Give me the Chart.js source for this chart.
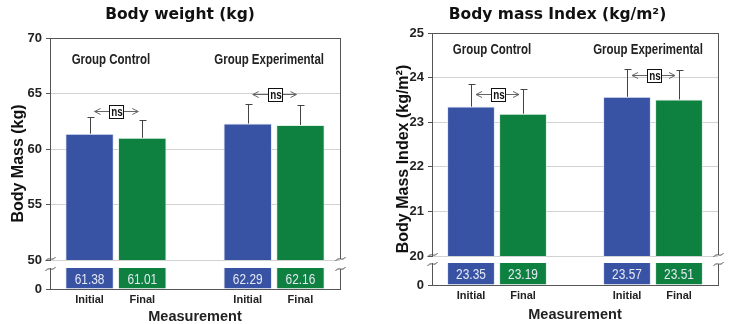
<!DOCTYPE html>
<html>
<head>
<meta charset="utf-8">
<script src="https://cdn.jsdelivr.net/npm/chart.js@4.4.1/dist/chart.umd.min.js"></script>
<style>
  html, body { margin: 0; padding: 0; background: #fff; }
  #wrap { position: relative; width: 730px; height: 324px; }
  .panel { position: absolute; top: 0; width: 365px; height: 324px; }
  .panel canvas { position: absolute; left: 0; top: 0; }
</style>
</head>
<body>
<div id="wrap">
  <div class="panel" style="left:0">
    <canvas id="wTop" width="365" height="324"></canvas>
    <canvas id="wBot" width="365" height="324"></canvas>
  </div>
  <div class="panel" style="left:365px">
    <canvas id="bTop" width="365" height="324"></canvas>
    <canvas id="bBot" width="365" height="324"></canvas>
  </div>
</div>
<script>
// data
const groups = ['Group Control', 'Group Experimental'];
const phases = ['Initial', 'Final'];

const weightInitial = [61.38, 62.29];
const weightFinal = [61.01, 62.16];
const weightInitialSD = [1.52, 1.77];
const weightFinalSD = [1.60, 1.84];
const weightTicks = [50, 55, 60, 65, 70];

const bmiInitial = [23.35, 23.57];
const bmiFinal = [23.19, 23.51];
const bmiInitialSD = [0.51, 0.63];
const bmiFinalSD = [0.55, 0.65];
const bmiTicks = [20, 21, 22, 23, 24, 25];

const blue = '#3953a4';
const green = '#0e8140';
const axisGray = '#555';
const sans = "'Liberation Sans', Arial, sans-serif";
const SQUEEZE = 0.82; // the figure uses a condensed face; squeeze our own labels to match

Chart.defaults.font.family = sans;
Chart.defaults.color = '#222';

// bar slots on the x axis: 1,2 for the first group, 4,5 for the second
const slot = (g, k) => g * 3 + 1 + k;
const barSlots = groups.flatMap((g, i) => phases.map((ph, k) => slot(i, k)));

function makeBars(initial, final, initialSD, finalSD) {
  const common = { grouped: false, barPercentage: 0.92, categoryPercentage: 1, borderWidth: 1 };
  return [
    { ...common, label: phases[0], data: initial.map((v, i) => ({ x: slot(i, 0), y: v })), errors: initialSD,
      backgroundColor: blue, borderColor: 'rgba(220,226,245,0.8)' },
    { ...common, label: phases[1], data: final.map((v, i) => ({ x: slot(i, 1), y: v })), errors: finalSD,
      backgroundColor: green, borderColor: 'rgba(215,238,222,0.8)' }
  ];
}

function narrowText(ctx, text, x, y) {
  ctx.save();
  ctx.translate(x, y);
  ctx.scale(SQUEEZE, 1);
  ctx.fillText(text, 0, 0);
  ctx.restore();
}

function tilde(ctx, x, y) {
  ctx.beginPath();
  ctx.moveTo(x - 5, y + 2);
  ctx.bezierCurveTo(x - 2, y - 3, x + 2, y + 3, x + 5, y - 2);
  ctx.stroke();
}

function drawNs(ctx, x1, x2, y) {
  const mid = Math.round((x1 + x2) / 2);
  ctx.save();
  ctx.strokeStyle = '#666';
  ctx.lineWidth = 1;
  ctx.beginPath();
  ctx.moveTo(x1, y); ctx.lineTo(x2, y);
  ctx.moveTo(x1 + 6, y - 3); ctx.lineTo(x1, y); ctx.lineTo(x1 + 6, y + 3);
  ctx.moveTo(x2 - 6, y - 3); ctx.lineTo(x2, y); ctx.lineTo(x2 - 6, y + 3);
  ctx.stroke();
  ctx.fillStyle = '#fff';
  ctx.fillRect(mid - 7, y - 6.5, 14, 13);
  ctx.strokeStyle = '#111';
  ctx.strokeRect(mid - 7 + 0.5, Math.round(y - 6.5) + 0.5, 14, 13);
  ctx.fillStyle = '#111';
  ctx.font = 'bold 12px ' + sans;
  ctx.textAlign = 'center';
  ctx.textBaseline = 'middle';
  narrowText(ctx, 'ns', mid + 1, Math.round(y) + 1);
  ctx.restore();
}

function makePanel(p) {
  const xScale = {
    type: 'linear', min: 0.25, max: 5.75, offset: false,
    afterBuildTicks: s => { s.ticks = barSlots.map(v => ({ value: v })); },
    ticks: { callback: v => phases[(v - 1) % 3], autoSkip: false, maxRotation: 0, padding: 4,
      font: { size: 11, weight: 'bold' } },
    grid: { display: false, drawTicks: false, offset: false },
    border: { color: axisGray }
  };
  const yTicks = { padding: 4, font: { size: 13, weight: 'bold' } };
  const lo = p.ticks[0], hi = p.ticks[p.ticks.length - 1];

  const upperDecor = {
    id: 'upperDecor',
    afterDatasetsDraw(chart) {
      const { ctx, scales: { y } } = chart;
      ctx.save();
      // error bars (upper whisker only)
      ctx.strokeStyle = '#444';
      ctx.lineWidth = 1;
      chart.data.datasets.forEach((ds, di) => {
        chart.getDatasetMeta(di).data.forEach((bar, i) => {
          const x = Math.round(bar.x) + 0.5;
          const yTop = Math.round(y.getPixelForValue(ds.data[i].y + ds.errors[i])) + 0.5;
          ctx.beginPath();
          ctx.moveTo(x, bar.y); ctx.lineTo(x, yTop);
          ctx.moveTo(x - 3, yTop); ctx.lineTo(x + 4, yTop);
          ctx.stroke();
        });
      });
      // group names and ns brackets
      const m0 = chart.getDatasetMeta(0).data, m1 = chart.getDatasetMeta(1).data;
      ctx.fillStyle = '#222';
      ctx.font = 'bold 14px ' + sans;
      ctx.textAlign = 'center';
      ctx.textBaseline = 'middle';
      groups.forEach((g, i) => {
        narrowText(ctx, g, (m0[i].x + m1[i].x) / 2 - 5, y.getPixelForValue(p.groupAt));
      });
      groups.forEach((g, i) => {
        drawNs(ctx, m0[i].x + 5, m1[i].x - 4, Math.round(y.getPixelForValue(p.nsAt[i])) + 0.5);
      });
      ctx.restore();
    },
    afterDraw(chart) {
      const { ctx, chartArea: a } = chart;
      ctx.save();
      ctx.strokeStyle = axisGray;
      ctx.lineWidth = 1;
      const r = Math.round(a.right) + 0.5;
      ctx.beginPath();
      ctx.moveTo(r, a.top); ctx.lineTo(r, a.bottom - 1);
      ctx.stroke();
      tilde(ctx, Math.round(a.left) + 0.5, a.bottom - 1);
      tilde(ctx, r, a.bottom - 1);
      // y axis title, centred over both parts of the broken axis
      ctx.translate(p.yTitleX, (p.top + p.lowBottom) / 2);
      ctx.rotate(-Math.PI / 2);
      ctx.fillStyle = '#111';
      ctx.font = 'bold 16px ' + sans;
      ctx.textAlign = 'center';
      ctx.textBaseline = 'middle';
      ctx.fillText(p.yTitle, 0, 0);
      ctx.restore();
    }
  };

  const lowerDecor = {
    id: 'lowerDecor',
    afterDatasetsDraw(chart) {
      const { ctx, chartArea: a } = chart;
      ctx.save();
      ctx.fillStyle = '#e4e9f4';
      ctx.font = '14.5px ' + sans;
      ctx.textAlign = 'center';
      ctx.textBaseline = 'middle';
      chart.data.datasets.forEach((ds, di) => {
        chart.getDatasetMeta(di).data.forEach((bar, i) => {
          narrowText(ctx, ds.data[i].y.toFixed(2), bar.x, (a.top + a.bottom) / 2 + 1);
        });
      });
      ctx.strokeStyle = axisGray;
      ctx.lineWidth = 1;
      const r = Math.round(a.right) + 0.5;
      ctx.beginPath();
      ctx.moveTo(r, a.top + 1); ctx.lineTo(r, a.bottom);
      ctx.stroke();
      tilde(ctx, Math.round(a.left) + 0.5, a.top + 1);
      tilde(ctx, r, a.top + 1);
      ctx.restore();
    }
  };

  // upper part of the broken axis
  new Chart(document.getElementById(p.id + 'Top'), {
    type: 'bar',
    data: { datasets: makeBars(p.initial, p.final, p.initialSD, p.finalSD) },
    options: {
      responsive: false,
      animation: false,
      layout: { padding: { left: p.padL, right: p.padR, bottom: 324 - p.breakAt } },
      plugins: {
        legend: { display: false },
        tooltip: { enabled: false },
        title: {
          display: true, text: p.title, color: '#111',
          font: { family: "'DejaVu Sans', sans-serif", size: 15.5, weight: 'bold', lineHeight: 1.2 },
          padding: { top: 6, bottom: p.top - 6 - 18.6 }
        }
      },
      scales: {
        x: { ...xScale, display: false },
        y: {
          min: lo, max: hi,
          afterBuildTicks: s => { s.ticks = p.ticks.map(v => ({ value: v })); },
          ticks: yTicks,
          grid: { color: c => c.tick && c.tick.value === hi ? axisGray : '#d2d2d2', tickLength: 4, tickColor: axisGray },
          border: { color: axisGray },
          afterFit: s => { s.width = p.axisW; }
        }
      }
    },
    plugins: [upperDecor]
  });

  // lower stub from 0 holding the value boxes
  new Chart(document.getElementById(p.id + 'Bot'), {
    type: 'bar',
    data: { datasets: makeBars(p.initial, p.final, p.initialSD, p.finalSD) },
    options: {
      responsive: false,
      animation: false,
      layout: { padding: { left: p.padL, right: p.padR, top: p.lowTop } },
      plugins: { legend: { display: false }, tooltip: { enabled: false } },
      scales: {
        x: {
          ...xScale,
          title: { display: true, text: 'Measurement', color: '#222',
            font: { size: 14.5, weight: 'bold', lineHeight: 0.8 }, padding: { top: 0, bottom: p.xTitlePad } },
          afterFit: s => { s.height = 324 - p.lowBottom; }
        },
        y: {
          min: 0, max: lo,
          afterBuildTicks: s => { s.ticks = [{ value: 0 }]; },
          ticks: yTicks,
          grid: { drawOnChartArea: false, tickLength: 4, tickColor: axisGray },
          border: { color: axisGray },
          afterFit: s => { s.width = p.axisW; }
        }
      }
    },
    plugins: [lowerDecor]
  });
}

makePanel({
  id: 'w', title: 'Body weight (kg)', yTitle: 'Body Mass (kg)',
  initial: weightInitial, final: weightFinal, initialSD: weightInitialSD, finalSD: weightFinalSD,
  ticks: weightTicks, nsAt: [63.45, 65.0], groupAt: 68.0,
  padL: 20, axisW: 30, padR: 25, top: 38, breakAt: 260, lowTop: 268, lowBottom: 289,
  yTitleX: 19, xTitlePad: 1
});

makePanel({
  id: 'b', title: 'Body mass Index (kg/m²)', yTitle: 'Body Mass Index (kg/m²)',
  initial: bmiInitial, final: bmiFinal, initialSD: bmiInitialSD, finalSD: bmiFinalSD,
  ticks: bmiTicks, nsAt: [23.64, 24.05], groupAt: 24.62,
  padL: 32, axisW: 35, padR: 12, top: 33, breakAt: 256, lowTop: 263, lowBottom: 285,
  yTitleX: 39, xTitlePad: 3.5
});
</script>
</body>
</html>
